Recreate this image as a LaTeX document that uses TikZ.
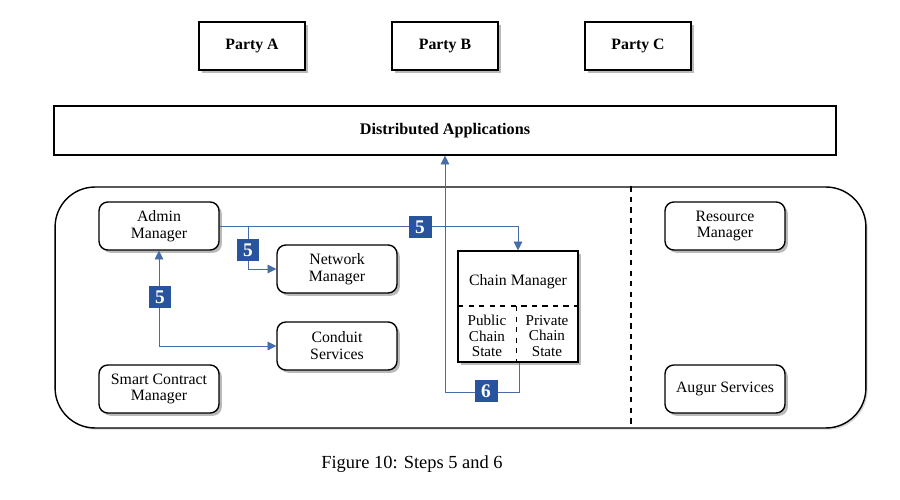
\documentclass[tikz,border=0pt]{standalone}
\usepackage{fontspec}
\setmainfont{Liberation Serif}
\usetikzlibrary{shadows,arrows.meta}

\definecolor{stepblue}{RGB}{40,84,158}
\definecolor{linkblue}{RGB}{72,108,168}

\tikzset{
  boxshadow/.style={drop shadow={shadow xshift=1.6pt, shadow yshift=-1.6pt, opacity=0.45, fill=black!60}},
  party/.style={draw, thick, fill=white, minimum width=2.12cm, minimum height=0.96cm,
    font=\fontsize{9}{10}\selectfont\bfseries, boxshadow},
  module/.style={draw, thick, rounded corners=5pt, fill=white, minimum width=2.4cm,
    minimum height=0.96cm, align=center, font=\fontsize{9}{9.6}\selectfont, boxshadow},
  stepnum/.style={fill=stepblue, text=white, font=\fontsize{11}{12}\selectfont\bfseries,
    minimum width=0.46cm, minimum height=0.46cm, inner sep=0pt},
  link/.style={linkblue, thin},
  tip/.tip={Triangle[width=5pt,length=5pt]},
}

\begin{document}
\begin{tikzpicture}[x=0.02cm, y=-0.02cm]
\useasboundingbox (0,0) rectangle (900,500);

% parties
\node[party] (partyA) at (252,46) {Party A};
\node[party] (partyB) at (445,46) {Party B};
\node[party] (partyC) at (638,46) {Party C};

\node[draw, thick, fill=white, minimum width=15.64cm, minimum height=0.98cm,
  font=\fontsize{9.2}{10}\selectfont\bfseries] (distapp) at (445,130.5) {Distributed Applications};

% platform
\node[draw, thick, rounded corners=0.8cm, minimum width=16.22cm, minimum height=4.82cm,
  drop shadow={shadow xshift=1pt, shadow yshift=-1pt, opacity=0.3}, fill=white] (platform) at (460.5,307.5) {};
\draw[dashed, thick] (platform.north -| 631,0) -- (platform.south -| 631,0);

\node[module] (admin) at (159,226) {Admin\\Manager};
\node[module] (netmgr) at (337,269) {Network\\Manager};
\node[module] (conduit) at (337,346) {Conduit\\Services};
\node[module] (smart) at (159,389) {Smart Contract\\Manager};
\node[module] (resource) at (725,226) {Resource\\Manager};
\node[module] (augur) at (725,389) {Augur Services};

% chain manager
\node[draw, thick, fill=white, minimum width=2.4cm, minimum height=2.22cm, boxshadow] (chain) at (518,306.5) {};
\node[font=\fontsize{9}{10}\selectfont] (chaintitle) at (518,282) {Chain Manager};
\draw[dashed, thick] (458,306) -- (578,306);
\draw[dashed] (516,306) -- (chain.south -| 516,0);
\node[align=center, font=\fontsize{8.6}{8.8}\selectfont, inner sep=1pt] (pub) at (487,336) {Public\\Chain\\State};
\node[align=center, font=\fontsize{8.6}{8.8}\selectfont, inner sep=1pt] (priv) at (547,336) {Private\\Chain\\State};

% step 5
\coordinate (split) at (248,226);
\draw[link, -tip] (admin.east) -| (chain.north);
\draw[link, -tip] (split) |- (netmgr.west);
\draw[link, tip-tip] (admin.south) |- (conduit.west);
\node[stepnum] (stepA) at (420,227) {5};
\node[stepnum] (stepB) at (248,250) {5};
\node[stepnum] (stepC) at (160,297) {5};

% step 6
\coordinate (back) at (445,392);
\draw[link, -tip] (chain.south -| 519,0) |- (back) -- (distapp.south -| back);
\node[stepnum] (stepD) at (486,391) {6};

\node[font=\fontsize{10.5}{12}\selectfont] (caption) at (412,464) {Figure 10: Steps 5 and 6};
\end{tikzpicture}
\end{document}
